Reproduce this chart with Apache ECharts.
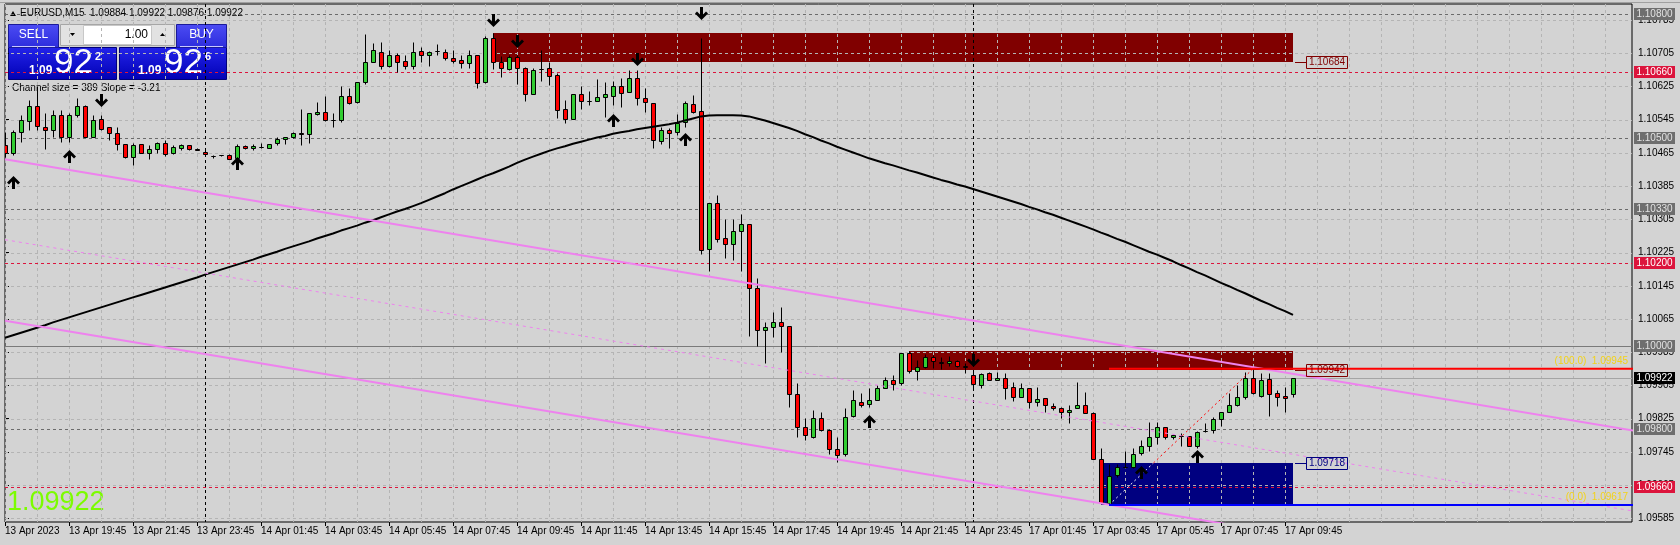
<!DOCTYPE html>
<html><head><meta charset="utf-8">
<script src="https://cdn.jsdelivr.net/npm/echarts@6/dist/echarts.min.js"></script>
<style>html,body{margin:0;padding:0;background:#d3d3d3}#c{width:1680px;height:545px}</style>
</head><body><div id="c"></div><script>
// ---------------- DATA ----------------
const symbolName = 'EURUSD,M15';
const xLabelIdx = [0,8,16,24,32,40,48,56,64,72,80,88,96,104,112,120,128,136,144,152,160];
const xLabels = ['13 Apr 2023','13 Apr 19:45','13 Apr 21:45','13 Apr 23:45','14 Apr 01:45','14 Apr 03:45','14 Apr 05:45','14 Apr 07:45','14 Apr 09:45','14 Apr 11:45','14 Apr 13:45','14 Apr 15:45','14 Apr 17:45','14 Apr 19:45','14 Apr 21:45','14 Apr 23:45','17 Apr 01:45','17 Apr 03:45','17 Apr 05:45','17 Apr 07:45','17 Apr 09:45'];
const daySeparators = [25, 121];
const yTicks = [1.10785,1.10705,1.10625,1.10545,1.10465,1.10385,1.10305,1.10225,1.10145,1.10065,1.09985,1.09905,1.09825,1.09745,1.09665,1.09585];

const open = [
1.10484,1.10466,1.10516,1.10541,1.10578,1.10528,1.10520,1.10556,1.10504,1.10556,
1.10578,1.10503,1.10546,1.10527,1.10512,1.10486,1.10454,1.10486,1.10466,1.10474,
1.10488,1.10464,1.10478,1.10483,1.10474,1.10468,1.10458,1.10460,1.10460,1.10452,
1.10482,1.10476,1.10480,1.10478,1.10488,1.10499,1.10504,1.10514,1.10511,1.10558,
1.10563,1.10545,1.10544,1.10601,1.10587,1.10635,1.10685,1.10709,1.10675,1.10701,
1.10687,1.10675,1.10711,1.10702,1.10711,1.10709,1.10694,1.10690,1.10681,1.10701,
1.10635,1.10743,1.10683,1.10667,1.10695,1.10669,1.10607,1.10666,1.10669,1.10653,
1.10570,1.10546,1.10607,1.10589,1.10589,1.10599,1.10603,1.10626,1.10611,1.10645,
1.10597,1.10585,1.10494,1.10520,1.10516,1.10539,1.10583,1.10566,1.10233,1.10344,
1.10259,1.10245,1.10277,1.10293,1.10139,1.10039,1.10045,1.10057,1.10047,1.09884,
1.09806,1.09782,1.09826,1.09798,1.09752,1.09740,1.09831,1.09866,1.09860,1.09870,
1.09900,1.09917,1.09910,1.09982,1.09940,1.09949,1.09973,1.09962,1.09958,1.09965,
1.09951,1.09929,1.09905,1.09936,1.09917,1.09922,1.09902,1.09876,1.09898,1.09866,
1.09874,1.09856,1.09850,1.09840,1.09850,1.09858,1.09838,1.09727,1.09621,1.09689,
1.09708,1.09708,1.09742,1.09760,1.09782,1.09804,1.09780,1.09784,1.09784,1.09758,
1.09796,1.09798,1.09823,1.09842,1.09858,1.09876,1.09922,1.09880,1.09920,1.09886,
1.09880,1.09884];
const high = [
1.10515,1.10520,1.10556,1.10593,1.10625,1.10560,1.10568,1.10568,1.10560,1.10597,
1.10580,1.10556,1.10556,1.10528,1.10528,1.10486,1.10488,1.10486,1.10484,1.10492,
1.10496,1.10484,1.10486,1.10484,1.10478,1.10475,1.10459,1.10461,1.10462,1.10486,
1.10484,1.10486,1.10488,1.10487,1.10503,1.10504,1.10516,1.10572,1.10562,1.10588,
1.10601,1.10560,1.10625,1.10621,1.10637,1.10751,1.10729,1.10731,1.10713,1.10705,
1.10701,1.10733,1.10719,1.10710,1.10727,1.10715,1.10713,1.10701,1.10713,1.10701,
1.10747,1.10755,1.10698,1.10701,1.10701,1.10673,1.10669,1.10713,1.10685,1.10657,
1.10593,1.10607,1.10625,1.10613,1.10642,1.10637,1.10638,1.10645,1.10665,1.10665,
1.10621,1.10585,1.10527,1.10524,1.10559,1.10589,1.10605,1.10743,1.10344,1.10364,
1.10305,1.10305,1.10318,1.10293,1.10163,1.10057,1.10081,1.10093,1.10047,1.09910,
1.09826,1.09847,1.09840,1.09800,1.09782,1.09850,1.09894,1.09888,1.09898,1.09905,
1.09925,1.09930,1.09984,1.09987,1.09966,1.09981,1.09978,1.09974,1.09976,1.09966,
1.09958,1.09942,1.09934,1.09938,1.09938,1.09934,1.09913,1.09910,1.09898,1.09901,
1.09874,1.09862,1.09854,1.09858,1.09913,1.09889,1.09842,1.09754,1.09716,1.09716,
1.09748,1.09754,1.09774,1.09818,1.09818,1.09806,1.09787,1.09790,1.09784,1.09796,
1.09815,1.09828,1.09842,1.09886,1.09906,1.09938,1.09945,1.09934,1.09934,1.09894,
1.09902,1.09922];
const low = [
1.10455,1.10460,1.10492,1.10520,1.10520,1.10474,1.10504,1.10492,1.10492,1.10551,
1.10503,1.10503,1.10520,1.10496,1.10472,1.10452,1.10436,1.10464,1.10450,1.10464,
1.10458,1.10463,1.10472,1.10472,1.10471,1.10460,1.10452,1.10458,1.10450,1.10448,
1.10475,1.10471,1.10478,1.10477,1.10484,1.10486,1.10500,1.10484,1.10488,1.10556,
1.10541,1.10528,1.10540,1.10583,1.10585,1.10631,1.10685,1.10666,1.10671,1.10661,
1.10666,1.10666,1.10685,1.10675,1.10701,1.10689,1.10682,1.10669,1.10669,1.10621,
1.10633,1.10667,1.10649,1.10665,1.10631,1.10591,1.10607,1.10638,1.10629,1.10550,
1.10536,1.10546,1.10572,1.10581,1.10589,1.10552,1.10581,1.10575,1.10611,1.10581,
1.10564,1.10476,1.10486,1.10478,1.10508,1.10528,1.10560,1.10222,1.10181,1.10251,
1.10211,1.10207,1.10181,1.10023,1.10000,1.09958,1.10021,1.09986,1.09854,1.09782,
1.09774,1.09778,1.09796,1.09740,1.09721,1.09735,1.09830,1.09854,1.09854,1.09870,
1.09898,1.09894,1.09905,1.09934,1.09917,1.09946,1.09946,1.09944,1.09952,1.09950,
1.09934,1.09898,1.09900,1.09917,1.09917,1.09872,1.09868,1.09876,1.09851,1.09856,
1.09840,1.09846,1.09827,1.09814,1.09850,1.09838,1.09727,1.09619,1.09617,1.09685,
1.09707,1.09705,1.09737,1.09746,1.09764,1.09776,1.09776,1.09760,1.09760,1.09754,
1.09794,1.09791,1.09807,1.09840,1.09856,1.09872,1.09885,1.09878,1.09832,1.09856,
1.09840,1.09876];
const close = [
1.10466,1.10516,1.10545,1.10578,1.10530,1.10520,1.10556,1.10503,1.10556,1.10578,
1.10504,1.10545,1.10523,1.10512,1.10486,1.10454,1.10484,1.10466,1.10475,1.10488,
1.10462,1.10480,1.10484,1.10474,1.10473,1.10462,1.10458,1.10459,1.10450,1.10482,
1.10476,1.10482,1.10480,1.10486,1.10499,1.10503,1.10514,1.10511,1.10560,1.10564,
1.10545,1.10545,1.10601,1.10585,1.10635,1.10685,1.10713,1.10675,1.10702,1.10685,
1.10675,1.10709,1.10702,1.10709,1.10711,1.10693,1.10687,1.10681,1.10701,1.10633,
1.10741,1.10683,1.10669,1.10695,1.10669,1.10607,1.10665,1.10666,1.10651,1.10568,
1.10546,1.10607,1.10589,1.10589,1.10599,1.10607,1.10626,1.10609,1.10645,1.10597,
1.10587,1.10496,1.10520,1.10514,1.10536,1.10585,1.10563,1.10231,1.10344,1.10257,
1.10245,1.10277,1.10293,1.10139,1.10039,1.10045,1.10057,1.10047,1.09884,1.09804,
1.09785,1.09826,1.09798,1.09752,1.09738,1.09828,1.09870,1.09858,1.09870,1.09898,
1.09917,1.09909,1.09984,1.09940,1.09949,1.09973,1.09964,1.09958,1.09965,1.09952,
1.09950,1.09909,1.09933,1.09918,1.09922,1.09900,1.09876,1.09898,1.09866,1.09872,
1.09858,1.09850,1.09840,1.09846,1.09858,1.09838,1.09727,1.09621,1.09688,1.09708,
1.09709,1.09739,1.09760,1.09782,1.09804,1.09780,1.09786,1.09784,1.09760,1.09794,
1.09796,1.09824,1.09840,1.09858,1.09876,1.09922,1.09886,1.09918,1.09884,1.09878,
1.09874,1.09922];
const ma = [
1.10020,1.10026,1.10032,1.10038,1.10044,1.10050,1.10057,1.10063,1.10069,1.10075,
1.10081,1.10087,1.10093,1.10099,1.10105,1.10111,1.10117,1.10123,1.10129,1.10135,
1.10141,1.10147,1.10153,1.10159,1.10165,1.10172,1.10178,1.10184,1.10190,1.10196,
1.10202,1.10208,1.10215,1.10221,1.10227,1.10234,1.10240,1.10246,1.10252,1.10259,
1.10265,1.10271,1.10278,1.10284,1.10290,1.10297,1.10303,1.10310,1.10317,1.10324,
1.10330,1.10337,1.10344,1.10352,1.10360,1.10368,1.10377,1.10385,1.10393,1.10401,
1.10409,1.10416,1.10424,1.10432,1.10441,1.10449,1.10456,1.10463,1.10470,1.10476,
1.10481,1.10487,1.10492,1.10497,1.10502,1.10506,1.10511,1.10515,1.10518,1.10522,
1.10525,1.10528,1.10531,1.10534,1.10538,1.10543,1.10548,1.10553,1.10555,1.10556,
1.10556,1.10556,1.10555,1.10553,1.10548,1.10543,1.10537,1.10531,1.10525,1.10518,
1.10510,1.10503,1.10495,1.10488,1.10480,1.10473,1.10466,1.10459,1.10452,1.10446,
1.10440,1.10435,1.10429,1.10423,1.10418,1.10412,1.10406,1.10400,1.10395,1.10389,
1.10384,1.10378,1.10372,1.10366,1.10360,1.10354,1.10348,1.10342,1.10335,1.10329,
1.10322,1.10316,1.10309,1.10302,1.10295,1.10288,1.10281,1.10273,1.10266,1.10258,
1.10251,1.10243,1.10235,1.10227,1.10220,1.10212,1.10204,1.10195,1.10187,1.10178,
1.10170,1.10161,1.10152,1.10144,1.10135,1.10127,1.10118,1.10109,1.10101,1.10092,
1.10084,1.10075];

const askPrice = 1.09926;
const channelSize = 389;
const channelSlope = -3.21;
const channelUpper = [[0, 1.10450], [204, 1.09795]];
const channelMid   = [[0, 1.10256], [204, 1.09601]];
const channelLower = [[0, 1.10061], [204, 1.09406]];

const zoneStart = [61, 113, 137];
const zoneEnd   = [161, 161, 161];
const zoneHigh  = [1.10755, 1.09987, 1.09718];
const zoneLow   = [1.10684, 1.09942, 1.09617];
const zoneLabel = [1.10684, 1.09942, 1.09718];

const levelPrice = [1.10800, 1.10660, 1.10500, 1.10330, 1.10200, 1.10000, 1.09800, 1.09660];

const fibFromIdx = 138, fibToIdx = 156;
const fibPct   = [0.0, 100.0];
const fibPrice = [1.09617, 1.09945];

const upArrowIdx   = [1, 8, 29, 76, 85, 108, 142, 149];
const upArrowPrice = [1.10393, 1.10456, 1.10438, 1.10542, 1.10496, 1.09818, 1.09695, 1.09732];
const dnArrowIdx   = [12, 61, 64, 79, 87, 121];
const dnArrowPrice = [1.10592, 1.10785, 1.10735, 1.10691, 1.10802, 1.09966];

// ---------------- STYLE / LAYOUT ----------------
const FN = "'Liberation Sans',Arial,sans-serif";
const BG = '#d3d3d3';
const XMAX = 203.375, Y_MIN = 1.095761, Y_MAX = 1.108237;
const levelStyle = ['gray','red','gray','gray','red','solid','gray','red'];
const LS = {
  gray:  {color:'#6b6b6b', dash:[3,3], box:'#6e6e6e', text:'#e2e2e2'},
  red:   {color:'#dc143c', dash:[3,3], box:'#dc143c', text:'#ffffff'},
  solid: {color:'#7a7a7a', dash:null,  box:'#6e6e6e', text:'#e2e2e2'},
  bid:   {color:'#a4a4a4', dash:null,  box:'#000000', text:'#ffffff'}
};
const zoneColor = ['#800000','#800000','#000080'];
const fibColor = ['#0000ff','#ff0000'];
const bidPrice = close[close.length-1];

const chart = echarts.init(document.getElementById('c'));

const candleData = open.map((o,i)=>[i,o,high[i],low[i],close[i]]);
const gridX = []; for (let v=0; v<=XMAX; v+=4) gridX.push(v);

const px = (api, x, y) => api.coord([x, y]);
const crisp = v => Math.round(v) + 0.5;

const series = [];

// zones
series.push({
  type:'custom', z:1, silent:true, clip:true,
  data: zoneStart.map((s,k)=>[s, zoneEnd[k], zoneHigh[k], zoneLow[k], k]),
  encode:{x:[0,1], y:[2,3]},
  renderItem(params, api){
    const a = px(api, api.value(0), api.value(2)), b = px(api, api.value(1), api.value(3));
    const x1 = Math.round(a[0]), x2 = Math.round(b[0]), y1 = Math.round(a[1]), y2 = Math.round(b[1]);
    return {type:'rect', shape:{x:x1, y:y1, width:x2-x1, height:y2-y1}, style:{fill: zoneColor[api.value(4)]}};
  }
});

// grid
series.push({
  type:'custom', z:2, silent:true, clip:true,
  data: yTicks.map(v=>[0, v, 0]).concat(gridX.map(v=>[v, Y_MIN, 1])),
  encode:{x:0, y:1},
  renderItem(params, api){
    const cs = params.coordSys;
    const st = {stroke:'#b4b4b4', lineWidth:1, lineDash:[3,3]};
    if (api.value(2) === 0) {
      const y = crisp(px(api, 0, api.value(1))[1]);
      return {type:'line', shape:{x1:cs.x, y1:y, x2:cs.x+cs.width, y2:y}, style:st};
    }
    const x = crisp(px(api, api.value(0), Y_MIN)[0]);
    return {type:'line', shape:{x1:x, y1:cs.y, x2:x, y2:cs.y+cs.height}, style:st};
  }
});

// horizontal levels + bid line
const levelRows = levelPrice.map((p,k)=>[0, p, levelStyle[k]]).concat([[0, bidPrice, 'bid']]);
series.push({
  type:'custom', z:3, silent:true, clip:true,
  data: levelRows.map(r=>[r[0], r[1]]),
  encode:{x:0, y:1},
  renderItem(params, api){
    const cs = params.coordSys;
    const st = LS[levelRows[params.dataIndex][2]];
    const y = crisp(px(api, 0, api.value(1))[1]);
    return {type:'line', shape:{x1:cs.x, y1:y, x2:cs.x+cs.width, y2:y}, style:{stroke:st.color, lineWidth:1, lineDash:st.dash}};
  }
});

// day separators
series.push({
  type:'custom', z:3, silent:true, clip:true,
  data: daySeparators.map(v=>[v, Y_MIN]),
  encode:{x:0, y:1},
  renderItem(params, api){
    const cs = params.coordSys;
    const x = crisp(px(api, api.value(0), Y_MIN)[0]);
    return {type:'line', shape:{x1:x, y1:cs.y, x2:x, y2:cs.y+cs.height}, style:{stroke:'#000', lineWidth:1, lineDash:[3,3]}};
  }
});

// candles
series.push({
  type:'custom', z:4, silent:true, clip:true,
  data: candleData,
  encode:{x:0, y:[1,2,3,4]},
  renderItem(params, api){
    const i = api.value(0), o = api.value(1), h = api.value(2), l = api.value(3), c = api.value(4);
    const po = px(api, i, o), pc = px(api, i, c), ph = px(api, i, h), pl = px(api, i, l);
    const cx = crisp(po[0]);
    const yT = crisp(Math.min(po[1], pc[1])), yB = crisp(Math.max(po[1], pc[1]));
    const fill = c > o ? '#32cd32' : (c < o ? '#ff0000' : 'none');
    return {type:'group', children:[
      {type:'line', shape:{x1:cx, y1:crisp(ph[1]), x2:cx, y2:crisp(pl[1])}, style:{stroke:'#000', lineWidth:1}},
      {type:'rect', shape:{x:cx-2, y:yT, width:4, height:yB-yT}, style:{fill:fill, stroke:'#000', lineWidth:1}}
    ]};
  }
});

// moving average
series.push({type:'line', z:5, silent:true, symbol:'none', data: ma.map((v,i)=>[i,v]),
  lineStyle:{color:'#000', width:2}});

// channel lines
series.push({type:'line', z:6, silent:true, symbol:'none', data: channelUpper, lineStyle:{color:'#ee82ee', width:2}});
series.push({type:'line', z:6, silent:true, symbol:'none', data: channelMid, lineStyle:{color:'#ee82ee', width:1, type:[3,4]}});
series.push({type:'line', z:6, silent:true, symbol:'none', data: channelLower, lineStyle:{color:'#ee82ee', width:2}});

// fib levels
fibPrice.forEach((p,k)=>{
  series.push({type:'line', z:6, silent:true, symbol:'none', data:[[fibFromIdx, p],[XMAX+1, p]],
    lineStyle:{color: fibColor[k], width:2}});
});
// fib diagonal
series.push({
  type:'custom', z:6, silent:true, clip:true,
  data:[[fibFromIdx, fibPrice[0], fibToIdx, fibPrice[1]]],
  encode:{x:[0,2], y:[1,3]},
  renderItem(params, api){
    const a = px(api, api.value(0), api.value(1)), b = px(api, api.value(2), api.value(3));
    const t = (zoneHigh[2] - api.value(1)) / (api.value(3) - api.value(1));
    const m = [a[0] + (b[0]-a[0])*t, a[1] + (b[1]-a[1])*t];
    return {type:'group', children:[
      {type:'line', shape:{x1:m[0], y1:m[1], x2:b[0], y2:b[1]}, style:{stroke:'#ff0000', lineWidth:1, lineDash:[2,3]}},
      {type:'line', shape:{x1:a[0], y1:a[1], x2:m[0], y2:m[1]}, style:{stroke:'#ffffff', lineWidth:1, lineDash:[2,3]}}
    ]};
  }
});

// arrows
const arrowRows = upArrowIdx.map((i,k)=>[i, upArrowPrice[k], 1]).concat(dnArrowIdx.map((i,k)=>[i, dnArrowPrice[k], -1]));
const arrowShape = [[-1.5,-6],[1.5,-6],[1.5,1.5],[4.5,-1.5],[6.5,0.5],[0,7],[-6.5,0.5],[-4.5,-1.5],[-1.5,1.5]];
series.push({
  type:'custom', z:7, silent:true, clip:false,
  data: arrowRows, encode:{x:0, y:1},
  renderItem(params, api){
    const p = px(api, api.value(0), api.value(1));
    const d = api.value(2);
    const cx = Math.round(p[0]) + 0.5, cy = Math.round(p[1]);
    return {type:'polygon', shape:{points: arrowShape.map(([x,y])=>[cx+x, cy + (d<0 ? y : -y)])}, style:{fill:'#000'}};
  }
});

// zone price labels
series.push({
  type:'custom', z:8, silent:true, clip:false,
  data: zoneEnd.map((e,k)=>[e, zoneLabel[k], k]), encode:{x:0, y:1},
  renderItem(params, api){
    const k = api.value(2);
    const p = px(api, api.value(0), api.value(1));
    const x = Math.round(p[0]), y = Math.round(p[1]);
    const col = zoneColor[k];
    return {type:'group', children:[
      {type:'line', shape:{x1:x+2, y1:y+0.5, x2:x+13, y2:y+0.5}, style:{stroke:col, lineWidth:1}},
      {type:'rect', shape:{x:x+13.5, y:y-5.5, width:41, height:12}, style:{fill:'none', stroke:col, lineWidth:1}},
      {type:'text', x:x+34, y:y+0.5, style:{text: api.value(1).toFixed(5), fill:col, font:'10px '+FN, align:'center', verticalAlign:'middle'}}
    ]};
  }
});

// fib texts
series.push({
  type:'custom', z:8, silent:true, clip:false,
  data: fibPrice.map((p,k)=>[XMAX, p, k]), encode:{x:0, y:1},
  renderItem(params, api){
    const cs = params.coordSys;
    const k = api.value(2);
    const y = px(api, XMAX, api.value(1))[1];
    return {type:'text', x: cs.x + cs.width - 4, y: y - 8,
      style:{text:'(' + fibPct[k].toFixed(1) + ')  ' + api.value(1).toFixed(5), fill:'#f2d21a', font:'10px '+FN, align:'right', verticalAlign:'middle'}};
  }
});

// axis price boxes
series.push({
  type:'custom', z:9, silent:true, clip:false,
  data: levelRows.map(r=>[r[0], r[1]]), encode:{x:0, y:1},
  renderItem(params, api){
    const cs = params.coordSys;
    const st = LS[levelRows[params.dataIndex][2]];
    const y = Math.round(px(api, 0, api.value(1))[1]);
    const x = cs.x + cs.width + 2;
    return {type:'group', children:[
      {type:'rect', shape:{x:x, y:y-6, width:41, height:12}, style:{fill:st.box}},
      {type:'text', x:x+20.5, y:y+0.5, style:{text: api.value(1).toFixed(5), fill:st.text, font:'10px '+FN, align:'center', verticalAlign:'middle'}}
    ]};
  }
});

// ---------------- GRAPHIC (terminal UI) ----------------
const grad = (a,b)=>({type:'linear', x:0, y:0, x2:0, y2:1, colorStops:[{offset:0,color:a},{offset:1,color:b}]});
const last = close.length-1;
const f5 = v => v.toFixed(5);
const bidS = f5(bidPrice), askS = f5(askPrice);
const graphic = [
  {type:'line', shape:{x1:0, y1:2.5, x2:1680, y2:2.5}, style:{stroke:'#a0a0a0', lineWidth:1}},
  {type:'polygon', shape:{points:[[10,16],[16,16],[13,11]]}, style:{fill:'#000'}},
  {type:'text', x:20, y:13, style:{text: symbolName + '  ' + [open[last],high[last],low[last],close[last]].map(f5).join(' '), fill:'#000', font:'10px '+FN, align:'left', verticalAlign:'middle'}},
  // price panels
  {type:'rect', shape:{x:8.5, y:47.5, width:108, height:32}, style:{fill:grad('#2424ea','#0000b4'), stroke:'#00007a', lineWidth:1}},
  {type:'rect', shape:{x:119.5, y:47.5, width:107, height:32}, style:{fill:grad('#2424ea','#0000b4'), stroke:'#00007a', lineWidth:1}},
  // buttons
  {type:'rect', shape:{x:8.5, y:24.5, width:50, height:23}, style:{fill:grad('#4c4cf4','#2c2cdc'), stroke:'#1a1a9a', lineWidth:1}},
  {type:'rect', shape:{x:176.5, y:24.5, width:50, height:23}, style:{fill:grad('#4c4cf4','#2c2cdc'), stroke:'#1a1a9a', lineWidth:1}},
  {type:'text', x:33.5, y:35, style:{text:'SELL', fill:'#fff', font:'12px Liberation Sans', align:'center', verticalAlign:'middle'}},
  {type:'text', x:201.5, y:35, style:{text:'BUY', fill:'#fff', font:'12px Liberation Sans', align:'center', verticalAlign:'middle'}},
  {type:'line', shape:{x1:12, y1:46.5, x2:55, y2:46.5}, style:{stroke:'#c8c8ff', lineWidth:1}},
  {type:'line', shape:{x1:180, y1:46.5, x2:223, y2:46.5}, style:{stroke:'#c8c8ff', lineWidth:1}},
  // lot box
  {type:'rect', shape:{x:60.5, y:24.5, width:114, height:21}, style:{fill:'#e2e2e2', stroke:'#a6a6a6', lineWidth:1}},
  {type:'rect', shape:{x:83.5, y:25.5, width:68, height:19}, style:{fill:'#ffffff', stroke:'#c8c8c8', lineWidth:1}},
  {type:'polygon', shape:{points:[[70,33],[75,33],[72.5,36]]}, style:{fill:'#000'}},
  {type:'polygon', shape:{points:[[160,36],[165,36],[162.5,33]]}, style:{fill:'#000'}},
  {type:'text', x:148, y:35, style:{text:'1.00', fill:'#000', font:'12px Liberation Sans', align:'right', verticalAlign:'middle'}},
  // sell price
  {type:'text', x:29, y:71, style:{text: bidS.slice(0,4), fill:'#fff', font:'bold 12px Liberation Sans', align:'left', verticalAlign:'middle'}},
  {type:'text', x:54, y:63, style:{text: bidS.slice(4,6), fill:'#fff', font:'35px Liberation Sans', align:'left', verticalAlign:'middle'}},
  {type:'text', x:95, y:57, style:{text: bidS.slice(6), fill:'#fff', font:'bold 11px Liberation Sans', align:'left', verticalAlign:'middle'}},
  // buy price
  {type:'text', x:138, y:71, style:{text: askS.slice(0,4), fill:'#fff', font:'bold 12px Liberation Sans', align:'left', verticalAlign:'middle'}},
  {type:'text', x:164, y:63, style:{text: askS.slice(4,6), fill:'#fff', font:'35px Liberation Sans', align:'left', verticalAlign:'middle'}},
  {type:'text', x:205, y:57, style:{text: askS.slice(6), fill:'#fff', font:'bold 11px Liberation Sans', align:'left', verticalAlign:'middle'}},
  // channel text
  {type:'text', x:12, y:88, style:{text:'Channel size = ' + channelSize + ' Slope = ' + channelSlope.toFixed(2), fill:'#000', font:'10px '+FN, align:'left', verticalAlign:'middle'}},
  // big price
  {type:'text', x:7, y:503, style:{text: bidS, fill:'#7cfc00', font:'27px '+FN, align:'left', verticalAlign:'middle'}}
];

chart.setOption({
  backgroundColor: BG,
  animation: false,
  grid: {left:5, right:48, top:4, bottom:23, show:true, borderColor:'#000', borderWidth:1, backgroundColor:'transparent'},
  xAxis: {type:'value', min:0, max:XMAX, axisLine:{show:false}, splitLine:{show:false},
    axisTick:{show:true, customValues:xLabelIdx, length:4, lineStyle:{color:'#000'}},
    axisLabel:{customValues:xLabelIdx, formatter: v => xLabels[xLabelIdx.indexOf(v)] || '', align:'left', margin:4, color:'#000', fontSize:10, fontFamily:FN}},
  yAxis: {type:'value', position:'right', min:Y_MIN, max:Y_MAX, axisLine:{show:false}, splitLine:{show:false},
    axisTick:{show:true, customValues:yTicks, length:4, lineStyle:{color:'#000'}},
    axisLabel:{customValues:yTicks, formatter: v => v.toFixed(5), margin:6, color:'#000', fontSize:10, fontFamily:FN}},
  series: series,
  graphic: graphic
});
</script></body></html>
